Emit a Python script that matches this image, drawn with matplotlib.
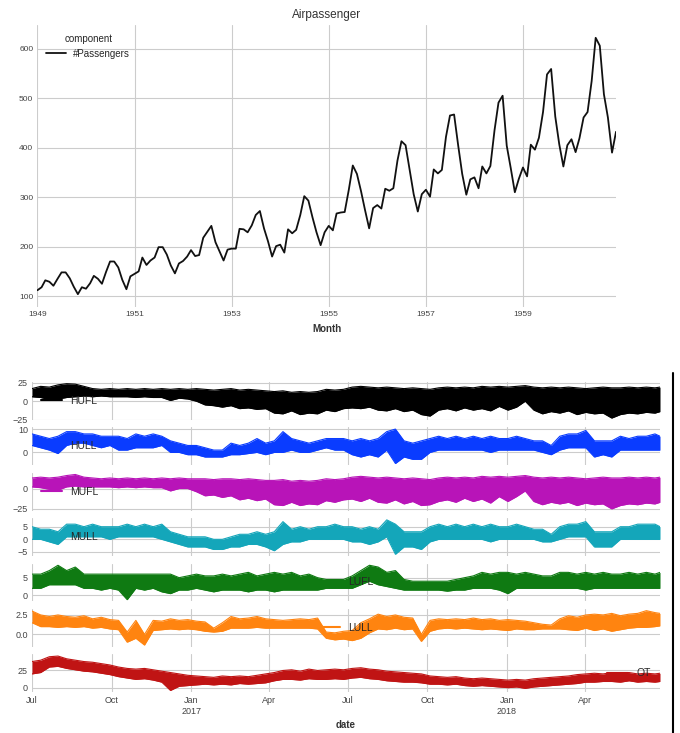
import pandas as pd
import matplotlib
matplotlib.use('Agg')
import matplotlib.pyplot as plt
import matplotlib.dates as mdates
from matplotlib.lines import Line2D

plt.style.use('seaborn-v0_8-whitegrid')
plt.rcParams['font.family'] = ['Liberation Sans', 'DejaVu Sans']

# --- AIR PASSENGERS ---
months = pd.date_range('1949-01-01', periods=144, freq='MS')
passengers = [112, 118, 132, 129, 121, 135, 148, 148, 136, 119, 104, 118,
              115, 126, 141, 135, 125, 149, 170, 170, 158, 133, 114, 140,
              145, 150, 178, 163, 172, 178, 199, 199, 184, 162, 146, 166,
              171, 180, 193, 181, 183, 218, 230, 242, 209, 191, 172, 194,
              196, 196, 236, 235, 229, 243, 264, 272, 237, 211, 180, 201,
              204, 188, 235, 227, 234, 264, 302, 293, 259, 229, 203, 229,
              242, 233, 267, 269, 270, 315, 364, 347, 312, 274, 237, 278,
              284, 277, 317, 313, 318, 374, 413, 405, 355, 306, 271, 306,
              315, 301, 356, 348, 355, 422, 465, 467, 404, 347, 305, 336,
              340, 318, 362, 348, 363, 435, 491, 505, 404, 359, 310, 337,
              360, 342, 406, 396, 420, 472, 548, 559, 463, 407, 362, 405,
              417, 391, 419, 461, 472, 535, 622, 606, 508, 461, 390, 432]
year_ticks = ['1949', '1951', '1953', '1955', '1957', '1959']

# --- ETTh1 : enveloppe basse / haute tous les 10 jours ---
ett_dates = list(pd.date_range('2016-07-01', periods=73, freq='10D')) + [pd.Timestamp('2018-06-26 19:00')]

hufl_hi = [17, 20, 19, 22, 23.6, 23, 20, 17, 16, 17, 16, 17, 16, 17, 16, 17, 16, 17, 16, 17,
           16, 15, 16, 17, 15, 16, 15, 14, 13, 14, 12, 13, 12, 13, 16, 15, 16,
           19, 20, 19, 18, 19, 18, 17, 18, 17, 16, 18, 19, 18, 19, 18, 20, 19, 20, 19, 20,
           21, 19, 18, 19, 18, 19, 18, 17, 18, 19, 18, 18, 19, 18, 19, 18, 19]
hufl_lo = [6, 5, 2, 3, 5, 6, 7, 6, 7, 6, 6, 6, 5, 6, 5, 5, 1, 4, 3, 0,
           -5, -6, -8, -6, -10, -9, -11, -10, -16, -17, -13, -18, -16, -17, -12, -14, -10,
           -9, -10, -8, -12, -13, -10, -14, -12, -18, -20, -12, -10, -13, -9, -12, -10, -13, -7, -12, -8,
           0, -12, -17, -14, -16, -13, -18, -15, -17, -16, -22.7, -18, -16, -17, -15, -16, -14]

hull_hi = [8, 7, 6, 7, 9, 9, 8, 8, 7, 7, 7, 6, 8, 7, 8, 7, 5, 4, 3, 3,
           2, 1, 1, 4, 3, 4, 6, 4, 5, 9, 6, 5, 4, 5, 6, 6, 6,
           5, 6, 5, 6, 9, 10.1, 5, 4, 5, 6, 7, 6, 7, 6, 7, 6, 7, 6, 6, 7,
           6, 5, 5, 3, 7, 8, 8, 9.5, 5, 5, 5, 7, 6, 7, 7, 8, 7]
hull_lo = [3, 2, 1, -0.5, 3, 4, 4, 3, 2, 3, 1, 1, 2, 2, 2, 3, 0, 0, -1, -1,
           -2, -2, -2, -1, -1, -0.5, 0, -1, 0, 0, 1, 0, 0, 1, 2, 1, 1,
           -1, -2, -1, -2, 1, -4.8, -2, -3, -3, 0, 1, 1, 1, 1, 1, 1, 0, 1, 1, 1,
           1, 1, 0, -1, 1, 2, 2, 2, -2, -1, -2, 1, 1, 1, 1, 1, 1]

mufl_hi = [13, 14, 13, 14, 16, 17.3, 14, 13, 12, 13, 12, 13, 12, 13, 12, 13, 12, 13, 12, 12,
           12, 11, 12, 12, 11, 12, 11, 10, 10, 11, 9, 10, 9, 10, 12, 11, 12,
           14, 15, 14, 13, 14, 13, 12, 13, 12, 11, 13, 14, 13, 14, 13, 15, 14, 15, 14, 15,
           16, 14, 13, 14, 13, 14, 13, 12, 13, 14, 13, 13, 14, 13, 14, 13, 14]
mufl_lo = [2, 1, -1, -2, 2, 3, 2, 2, 2, 2, 1, 2, 1, 2, 1, 1, -3, 0, 0, -4,
           -9, -8, -11, -9, -14, -12, -15, -13, -20, -21, -17, -21, -19, -20, -15, -17, -14,
           -13, -16, -12, -17, -18, -14, -19, -16, -21, -20, -16, -14, -17, -12, -16, -13, -18, -10, -16, -10,
           -3, -16, -20, -17, -19, -17, -21, -18, -20, -19, -25.1, -21, -19, -20, -18, -19, -17]

mull_hi = [5, 4, 4, 3, 6, 6, 5, 6, 5, 5, 5, 6, 5, 6, 5, 6, 3, 2, 1, 1,
           1, 0, 0, 1, 2, 2, 3, 2, 3, 7, 4, 5, 4, 5, 5, 6, 5,
           5, 4, 5, 4, 7.7, 6, 3, 3, 3, 5, 6, 5, 6, 5, 6, 5, 6, 5, 5, 6,
           5, 4, 4, 2, 5, 6, 6, 7, 3, 3, 3, 5, 5, 6, 6, 6, 5]
mull_lo = [0, 0, -1, -2, 1, 1, 1, 1, 1, 0, 1, 1, 1, 1, 1, 0, -1, -2, -3, -3,
           -3, -4, -4, -3, -3, -2, -2, -3, -4.5, -2, -1, -1, 0, 0, 0, 0, 0,
           -1, -1, -2, -1, 1, -5.9, -3, -3, -4, -1, 0, 0, 0, 0, 0, 0, -1, 0, 0, 0,
           0, 0, -1, -1, 0, 1, 1, 1, -3, -3, -3, 0, 0, 0, 0, 0, 0]

lufl_hi = [6, 6, 7, 8.5, 7, 8, 6, 6, 6, 6, 6, 6, 6, 6, 6, 6, 6, 5, 5.5, 6,
           5.5, 5.5, 6, 5.5, 6, 6.5, 5.5, 6, 6.5, 6, 6.5, 5.5, 6, 5, 4.5, 4.5, 4.5,
           5.5, 7, 8.5, 8, 6.5, 7, 4.5, 4, 4, 4, 4, 4, 4.5, 5, 5.5, 6.5, 6, 6.5, 6.5, 6,
           6.5, 6, 5.5, 5.5, 6.5, 6.5, 6, 6.5, 6, 6.5, 6, 6, 6.5, 6, 6.5, 6, 6.5]
lufl_lo = [2, 2, 3, 3, 3, 3, 2, 2, 1.5, 2, 1.5, -1.2, 2, 1.5, 2, 1, 0.5, 1.5, 1.5, 2,
           1.5, 1, 1.5, 1.5, 1.5, 1, 1.5, 1.5, 1, 1.5, 1.5, 1.5, 1.5, 1.5, 2, 2, 2,
           2, 3, 4, 3, 2.5, 2, 1.5, 1.5, 1.5, 1.5, 1.5, 1.2, 1.5, 1.5, 2, 2, 2, 1.5, 0.5, 2,
           2, 2, 2, 2, 2, 2, 2, 1.5, 2, 2, 2, 2, 2, 2, 2, 2, 2]

lull_hi = [3, 2.5, 2.3, 2.5, 2.3, 2.2, 2.4, 2, 2.2, 1.9, 1.8, 0.3, 1.8, 0, 1.8, 1.7, 2, 1.8, 1.9, 1.7,
           1.6, 0.8, 1.5, 2.3, 2, 2.1, 2.3, 2, 1.9, 1.8, 1.9, 2, 1.9, 2.1, 0.3, 0.2, 0.4,
           0.5, 1.5, 2, 2.6, 2.3, 2.5, 2.2, 2.1, 0, 1.8, 2, 1.9, 2, 1.9, 2.1, 1.9, 2, 1.8, 1.9, 1.8,
           1.7, 1.5, 1.3, 1.2, 2, 2.4, 2.2, 2.5, 2.6, 2.5, 2.7, 2.4, 2.6, 2.7, 3.05, 2.8, 2.7]
lull_lo = [1.5, 1, 1, 0.9, 1, 0.9, 1, 0.8, 0.9, 0.7, 0.6, -1, -0.5, -1.37, 0.5, 0.6, 0.7, 0.6, 0.7, 0.6,
           0.4, 0.3, 0.4, 0.8, 0.8, 0.8, 0.9, 0.8, 0.8, 0.8, 0.8, 0.8, 0.8, 0.7, -0.5, -0.7, -0.6,
           -0.8, -0.5, 0.2, 0.7, 0.6, 0.8, 0.6, 0.7, -0.9, 0.4, 0.7, 0.8, 0.7, 0.8, 0.7, 0.6, 0.7, 0.6, 0.5, 0.7,
           0.6, 0.6, 0.7, 0.7, 0.7, 0.6, 0.5, 0.8, 0.5, 0.7, 0.4, 0.6, 0.8, 0.9, 0.9, 1, 1.1]

ot_hi = [38, 40, 45, 46, 42, 40, 38, 37, 35, 33, 30, 28, 27, 28, 26, 24, 22, 20, 18, 17,
         16, 15, 17, 16, 17, 16, 18, 20, 22, 25, 26, 24, 27, 25, 26, 27, 26,
         28, 29, 27, 26, 24, 23, 22, 21, 20, 17, 16, 15, 16, 14, 13, 14, 13, 12, 11, 12,
         11, 13, 14, 15, 16, 17, 19, 20, 21, 20, 22, 21, 22, 20, 21, 20, 21]
ot_lo = [20, 22, 30, 31, 28, 26, 24, 23, 21, 19, 16, 14, 12, 13, 11, 8, -4.08, 2, 3, 4,
         5, 4, 5, 4, 6, 5, 6, 7, 10, 12, 12, 11, 13, 12, 12, 13, 12,
         14, 15, 13, 12, 10, 9, 8, 8, 7, 5, 5, 4, 5, 3, 2, 3, 2, 1, 0, 1,
         -1, 1, 2, 3, 4, 5, 6, 8, 8, 9, 9, 8, 10, 8, 9, 8, 9]

ett_names = ['HUFL', 'HULL', 'MUFL', 'MULL', 'LUFL', 'LULL', 'OT']
ett_lo = [hufl_lo, hull_lo, mufl_lo, mull_lo, lufl_lo, lull_lo, ot_lo]
ett_hi = [hufl_hi, hull_hi, mufl_hi, mull_hi, lufl_hi, lull_hi, ot_hi]
ett_colors = ['#000000', '#0a3cff', '#b814b8', '#14a6ba', '#0f7a12', '#ff8410', '#c01414']
ett_yticks = [[-25, 0, 25], [0, 10], [-25, 0], [-5, 0, 5], [0, 5], [0.0, 2.5], [0, 25]]
legend_locs = ['center left', 'center left', 'center left', 'center left', 'center', 'center', 'center right']
date_ticks = ['2016-07-01', '2016-10-01', '2017-01-01', '2017-04-01',
              '2017-07-01', '2017-10-01', '2018-01-01', '2018-04-01']
date_labels = ['Jul', 'Oct', 'Jan\n2017', 'Apr', 'Jul', 'Oct', 'Jan\n2018', 'Apr']

fig = plt.figure(figsize=(6.8, 7.33), dpi=100)

# --- FIGURE DU HAUT ---
ax = fig.add_axes([0.0551, 0.5812, 0.8508, 0.3847])
ax.plot(months, passengers, color='#111111', lw=1.3, label='#Passengers')
ax.set_xlim(months[0], months[-1])
ax.set_xticks(pd.to_datetime(year_ticks))
ax.xaxis.set_major_formatter(mdates.DateFormatter('%Y'))
ax.set_yticks([100, 200, 300, 400, 500, 600])
ax.tick_params(labelsize=6, colors='#444444', pad=3)
ax.set_title('Airpassenger', fontsize=8.5, color='#333333', pad=5)
ax.set_xlabel('Month', fontsize=7, fontweight='bold', color='#333333', labelpad=4)
ax.legend(title='component', loc='upper left', fontsize=7, title_fontsize=7, frameon=False)
for s in ax.spines.values():
    s.set_visible(False)

# --- FIGURE DU BAS ---
gs = fig.add_gridspec(7, 1, left=0.0471, right=0.9706, top=0.4789, bottom=0.0557, hspace=0.2)
axes = gs.subplots(sharex=True)
for i, a in enumerate(axes):
    c = ett_colors[i]
    a.fill_between(ett_dates, ett_lo[i], ett_hi[i], color=c, lw=0)
    a.plot(ett_dates, ett_hi[i], color=c, lw=0.8)
    a.plot(ett_dates, ett_lo[i], color=c, lw=0.8)
    a.set_yticks(ett_yticks[i])
    a.tick_params(labelsize=6.5, colors='#444444', pad=3)
    for s in a.spines.values():
        s.set_visible(False)
    a.legend([Line2D([], [], color=c, lw=1.5)], [ett_names[i]], loc=legend_locs[i],
             fontsize=7.5, frameon=False)

axes[-1].set_xlim(ett_dates[0], ett_dates[-1])
axes[-1].set_xticks(pd.to_datetime(date_ticks))
axes[-1].set_xticklabels(date_labels)
axes[-1].set_xlabel('date', fontsize=7, fontweight='bold', color='#333333', labelpad=3)

# bord de la capture d'écran
fig.add_artist(Line2D([673 / 680, 673 / 680], [0, 1 - 373 / 733], transform=fig.transFigure,
                      color='black', lw=1.5))

plt.savefig('out.png', dpi=100)
print("[OK] out.png")
